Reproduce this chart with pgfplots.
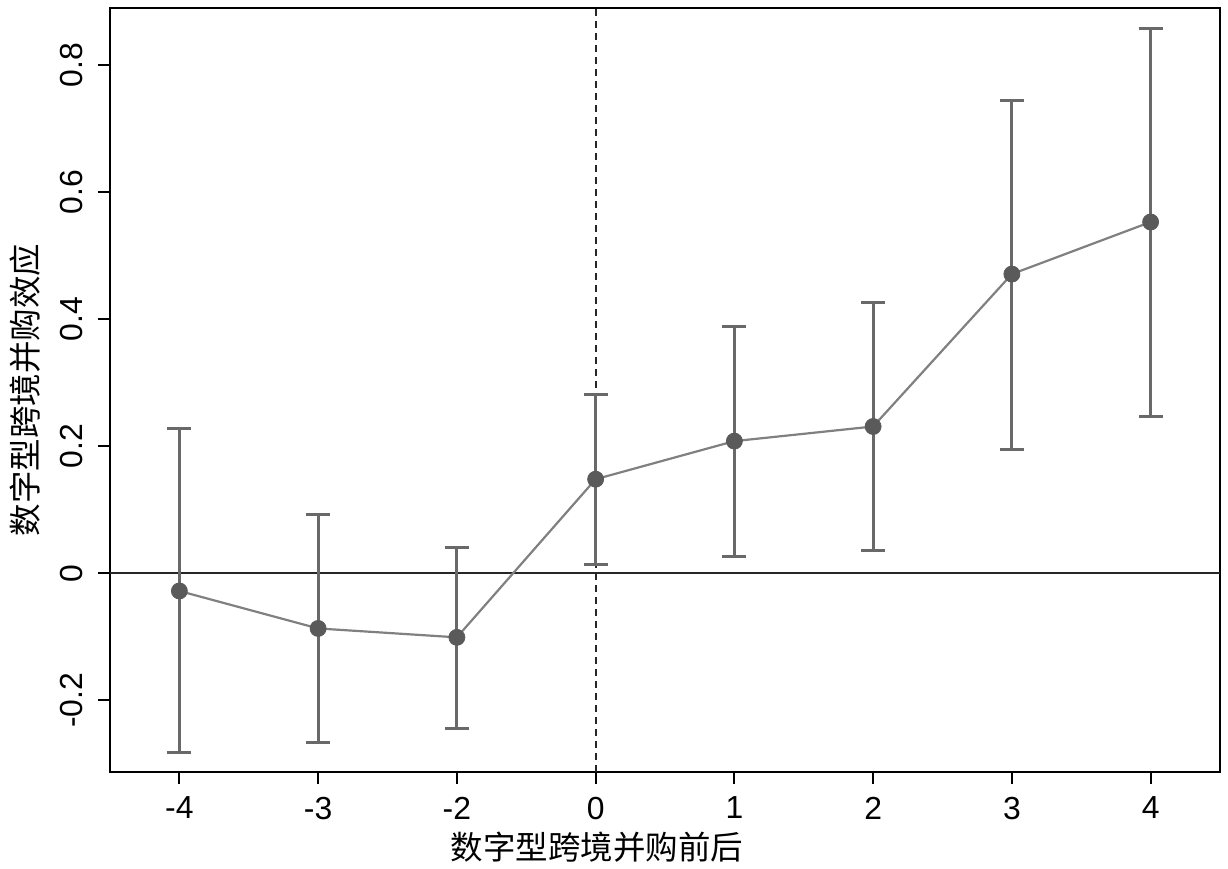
\documentclass[border=0pt]{standalone}
\usepackage{pgfplots}
\pgfplotsset{compat=1.18}
\usepackage{pgfplotstable}
\usepackage{fontspec}
\setmainfont{Liberation Sans}
\newfontfamily\cjk{Noto Sans CJK SC}
\definecolor{barc}{RGB}{105,105,105}
\definecolor{linec}{RGB}{128,128,128}
\definecolor{markc}{RGB}{90,90,90}
\pgfplotstableread{
x y hi lo
0 -0.028 0.228 -0.282
1 -0.087 0.093 -0.266
2 -0.101 0.041 -0.244
3 0.148 0.282 0.013
4 0.208 0.389 0.027
5 0.231 0.427 0.036
6 0.471 0.745 0.195
7 0.553 0.858 0.246
}\datatab
\begin{document}
\begin{tikzpicture}
\begin{axis}[
  scale only axis,
  width=555bp, height=382bp,
  xmin=-0.5, xmax=7.5,
  ymin=-0.313, ymax=0.89,
  xtick={0,1,2,3,4,5,6,7},
  xticklabels={-4,-3,-2,0,1,2,3,4},
  ytick={-0.2,0,0.2,0.4,0.6,0.8},
  yticklabels={-0.2,0,0.2,0.4,0.6,0.8},
  xtick pos=left, ytick pos=left,
  tick align=outside,
  major tick length=6bp,
  axis line style={line width=1bp, black},
  every tick/.style={line width=1bp, black},
  ticklabel style={font=\fontsize{16}{18}\selectfont},
  yticklabel style={rotate=90, anchor=south, yshift=4bp},
  xticklabel style={yshift=-3bp},
  /pgf/number format/assume math mode=true,
  xlabel={\cjk 数字型跨境并购前后},
  ylabel={\cjk 数字型跨境并购效应},
  label style={font=\fontsize{16.3}{18}\selectfont},
  x label style={at={(ticklabel cs:0.4387)}, anchor=near ticklabel, yshift=0.5bp},
  y label style={yshift=3bp},
  clip=false,
]
\draw[black!85, line width=1bp] (axis cs:-0.5,0) -- (axis cs:7.5,0);
\draw[black!85, line width=1bp, dash pattern=on 3.5bp off 2.5bp] (axis cs:3,-0.313) -- (axis cs:3,0.89);
\addplot[draw=none, mark=none, forget plot,
  error bars/.cd, y dir=both, y explicit,
  error bar style={barc, line width=1.5bp},
  error mark options={barc, line width=1.5bp, rotate=90, mark size=6bp}]
  table[x=x, y=y, y error plus expr=\thisrow{hi}-\thisrow{y}, y error minus expr=\thisrow{y}-\thisrow{lo}] {\datatab};
\addplot[only marks, mark=*, mark size=4bp, mark options={fill=markc, draw=markc}] table[x=x,y=y] {\datatab};
\addplot[linec, line width=1.1bp, mark=none] table[x=x,y=y] {\datatab};
\end{axis}
\pgfresetboundingbox
\path ([xshift=-55bp,yshift=-48.5bp]current axis.south west) rectangle ([xshift=4bp,yshift=4bp]current axis.north east);
\end{tikzpicture}
\end{document}
